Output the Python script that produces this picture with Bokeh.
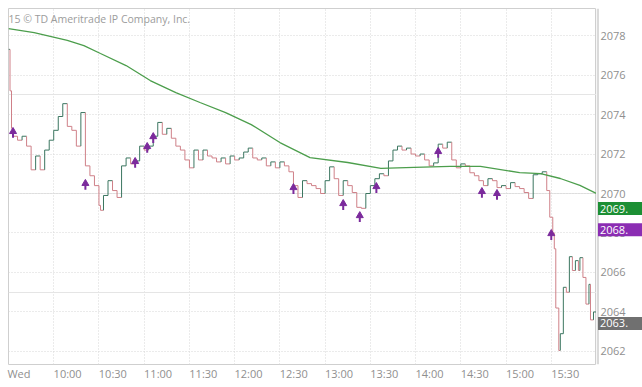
from bokeh.plotting import figure
from bokeh.layouts import row
from bokeh.models import Range1d, FixedTicker, Label, ColumnDataSource, Grid
from bokeh.core.properties import value
from bokeh.embed import file_html
from bokeh.resources import INLINE

# ---- data (minutes after 9:30, price) ----
price_times = [0, 1, 2, 3, 6, 9, 12, 15, 18, 21, 24, 27, 30, 33, 36, 39, 42, 45, 48, 51,
               54, 57, 60, 61, 63, 66, 69, 72, 75, 78, 81, 84, 87, 90, 93, 96, 99, 102, 105, 108,
               111, 114, 117, 120, 123, 126, 129, 132, 135, 138, 141, 144, 147, 150, 153, 156, 159, 162, 165, 168,
               171, 174, 177, 180, 183, 186, 189, 192, 195, 198, 201, 204, 207, 210, 213, 216, 219, 222, 225, 228,
               231, 234, 237, 240, 243, 246, 249, 252, 255, 258, 261, 264, 267, 270, 273, 276, 279, 282, 285, 288,
               291, 294, 297, 300, 303, 306, 309, 312, 315, 318, 321, 324, 327, 330, 333, 336, 339, 342, 345, 348,
               351, 354, 357, 359, 361, 362, 363, 365, 366, 368, 370, 372, 374, 376, 378, 379, 381, 383, 385, 386,
               388, 390]
prices = [2077.3, 2075.2, 2073.3, 2072.9, 2072.7, 2072.9, 2072.4, 2071.2, 2071.9, 2071.2, 2072.2, 2072.7, 2073.2, 2073.9, 2074.55, 2073.4, 2073.2, 2072.4, 2074.1, 2071.4,
          2070.9, 2070.4, 2069.4, 2069.15, 2069.9, 2070.65, 2070.15, 2069.8, 2071.4, 2071.8, 2071.5, 2071.65, 2072.4, 2072.2, 2072.4, 2072.9, 2073.6, 2073.0, 2073.3, 2072.8,
          2072.4, 2072.2, 2071.7, 2071.3, 2072.2, 2071.7, 2072.2, 2071.9, 2071.8, 2071.6, 2071.8, 2071.5, 2071.9, 2071.7, 2071.8, 2072.1, 2072.3, 2071.8, 2071.7, 2071.8,
          2071.4, 2071.6, 2071.3, 2071.6, 2071.4, 2071.1, 2070.4, 2069.8, 2070.65, 2070.5, 2070.4, 2070.25, 2070.0, 2070.65, 2071.35, 2070.75, 2069.9, 2070.65, 2070.4, 2070.05,
          2069.3, 2069.25, 2070.0, 2070.4, 2070.75, 2071.0, 2070.9, 2071.65, 2072.2, 2072.4, 2072.2, 2072.3, 2072.0, 2071.9, 2072.0, 2071.7, 2071.4, 2071.55, 2072.5, 2072.3,
          2072.6, 2071.7, 2071.3, 2071.5, 2071.4, 2071.05, 2070.9, 2070.65, 2070.4, 2070.75, 2070.65, 2070.3, 2070.4, 2070.25, 2070.55, 2070.35, 2070.25, 2070.05, 2069.75, 2070.95,
          2071.0, 2071.1, 2070.15, 2068.8, 2068.0, 2067.2, 2064.2, 2062.05, 2062.9, 2065.25, 2065.0, 2066.8, 2066.1, 2066.6, 2066.1, 2066.75, 2065.75, 2064.4, 2065.4, 2063.6,
          2064.0, 2063.4]

ma_times = [0, 17, 39, 50, 61, 78, 94, 111, 127, 144, 161, 180, 200, 225, 247, 269, 293, 313, 339, 353, 366, 379, 390]
ma_values = [2078.35, 2078.15, 2077.75, 2077.49, 2077.09, 2076.48, 2075.72, 2075.11, 2074.61, 2074.10, 2073.49,
             2072.58, 2071.82, 2071.57, 2071.27, 2071.32, 2071.37, 2071.37, 2071.06, 2071.01, 2070.76, 2070.41, 2070.0]

signal_times = [3, 51, 84, 92, 96, 189, 222, 233, 244, 285, 314, 324, 360]
signal_prices = [2073.04, 2070.41, 2071.52, 2072.28, 2072.78, 2070.20, 2069.39, 2068.78, 2070.25, 2072.03, 2070.0, 2069.9, 2067.87]

tick_minutes = [0, 30, 60, 90, 120, 150, 180, 210, 240, 270, 300, 330, 360]
tick_labels = ["Wed", "10:00", "10:30", "11:00", "11:30", "12:00", "12:30", "13:00", "13:30", "14:00", "14:30", "15:00", "15:30"]
price_ticks = [2062, 2064, 2066, 2068, 2070, 2072, 2074, 2076, 2078]

box_texts = ["2069.", "2068.", "2063."]          # MA, signal, last price
box_values = [2069.24, 2068.17, 2063.42]
copyright_text = "15 \u00a9 TD Ameritrade IP Company, Inc."

UP = "#3b7660"
DOWN = "#cf8088"
FONT = "Open Sans"
GRAY = "#8f8f8f"
BOX_COLORS = ["#1c8f34", "#8b2db3", "#707070"]

X0, X1 = 0, 390
Y_RANGE = Range1d(2061.34, 2079.37)
FRAME_W = 588
PX_PER_MIN = FRAME_W / (X1 - X0)

p = figure(width=8 + FRAME_W, height=387, x_range=Range1d(X0, X1), y_range=Y_RANGE,
           output_backend="svg", toolbar_location=None, y_axis_location=None,
           min_border_left=8, min_border_top=8, min_border_right=0, min_border_bottom=23)
p.background_fill_color = "white"
p.border_fill_color = "white"
p.outline_line_color = "#cfcfcf"

# grids
xg = p.xgrid[0]
xg.ticker = FixedTicker(ticks=tick_minutes)
yg = Grid(dimension=1, ticker=FixedTicker(ticks=price_ticks))
p.add_layout(yg)
for g in (xg, yg):
    g.grid_line_color = "#d6d6d6"
    g.grid_line_dash = "1 2"
    g.grid_line_width = 1

# price step bars
x0, y0, x1, y1, col = [], [], [], [], []
for i in range(1, len(prices)):
    c = UP if prices[i] >= prices[i - 1] else DOWN
    pc = UP if i < 2 or prices[i - 1] >= prices[i - 2] else DOWN
    x0.append(price_times[i - 1]); y0.append(prices[i - 1]); x1.append(price_times[i]); y1.append(prices[i - 1]); col.append(pc)
    x0.append(price_times[i]); y0.append(prices[i - 1]); x1.append(price_times[i]); y1.append(prices[i]); col.append(c)
src = ColumnDataSource(dict(x0=x0, y0=y0, x1=x1, y1=y1, c=col))
p.segment(x0="x0", y0="y0", x1="x1", y1="y1", line_color="c", line_width=1, source=src)

# moving average
p.line(ma_times, ma_values, line_color="#4c9e4c", line_width=1.3)

# signal arrows
sig_col = "#7b2a9c"
p.segment(x0=signal_times, y0=[v - 0.22 for v in signal_prices], x1=signal_times,
          y1=[v + 0.02 for v in signal_prices], line_color=sig_col, line_width=2)
p.scatter(x=signal_times, y=[v + 0.1 for v in signal_prices], marker="triangle", size=7,
          fill_color=sig_col, line_color=sig_col)

# x axis: labels start at their tick (left aligned), so shift each label by half its width
half_w_px = [10.5 if lab == "Wed" else 13.9 for lab in tick_labels]
label_pos = [round(m + hw / PX_PER_MIN, 3) for m, hw in zip(tick_minutes, half_w_px)]
xa = p.xaxis[0]
xa.ticker = FixedTicker(ticks=label_pos)
xa.major_label_overrides = {pos: lab for pos, lab in zip(label_pos, tick_labels)}
xa.major_label_text_font = FONT
xa.major_label_text_font_size = "11px"
xa.major_label_text_color = GRAY
xa.major_tick_out = 0
xa.major_tick_in = 0
xa.minor_tick_out = 0
xa.minor_tick_in = 0
xa.major_label_standoff = 1
xa.axis_line_color = None

p.add_layout(Label(x=0, y=2078.86, text=copyright_text, text_align="left", text_baseline="middle",
                   text_color="#9c9c9c", text_font=FONT, text_font_size="10.5px"))

# ---- right price-scale panel (shares the y scale) ----
SIDE_W = 46
side = figure(width=SIDE_W, height=387, x_range=Range1d(0, SIDE_W), y_range=Y_RANGE,
              output_backend="svg", toolbar_location=None, x_axis_location=None, y_axis_location=None,
              min_border_left=0, min_border_right=0, min_border_top=8, min_border_bottom=23)
side.outline_line_color = None
side.background_fill_color = "white"
side.border_fill_color = "white"
side.grid.visible = False

side.quad(left=0, right=2.5, bottom=Y_RANGE.start, top=Y_RANGE.end, fill_color="#dadada", line_color=None)
side.text(x=[4] * len(price_ticks), y=price_ticks, text=[str(t) for t in price_ticks],
          text_font=value(FONT), text_font_size="11px", text_color=GRAY, text_baseline="middle",
          text_align="left")
side.rect(x=[1.5 + (SIDE_W - 1.5) / 2] * 3, y=box_values, width=SIDE_W - 1.5, height=13,
          height_units="screen", fill_color=BOX_COLORS, line_color=None)
side.text(x=[3.5] * 3, y=box_values, text=box_texts, text_font=value(FONT), text_font_size="11px",
          text_color="white", text_baseline="middle", text_align="left")

layout = row(p, side, spacing=0)
open("out.html", "w").write(file_html(layout, INLINE))
